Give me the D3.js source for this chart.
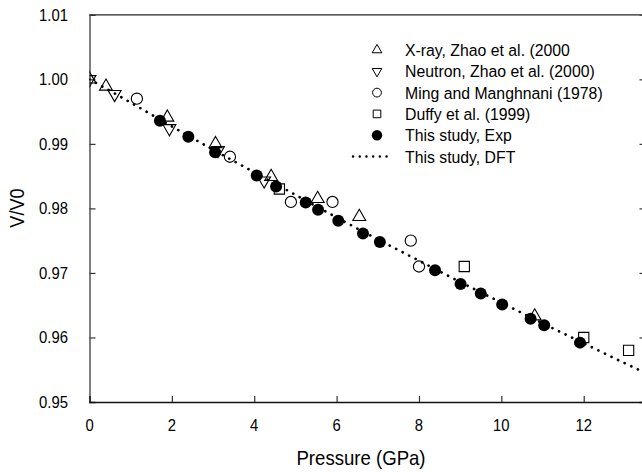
<!DOCTYPE html>
<html>
<head>
<meta charset="utf-8">
<title>V/V0 vs Pressure</title>
<script src="https://d3js.org/d3.v7.min.js"></script>
<style>
body { margin: 0; background: #fff; }
text { font-family: "Liberation Sans", Arial, sans-serif; fill: #000; }
</style>
</head>
<body>
<div id="chart"></div>
<script>
// X-ray, Zhao et al. (2000)
var xrayP = [0, 0.40, 1.89, 3.06, 4.41, 5.54, 6.55, 10.81];
var xrayV = [1.000, 0.9989, 0.9941, 0.9900, 0.9849, 0.9815, 0.9787, 0.9633];
// Neutron, Zhao et al. (2000)
var neutP = [0, 0.61, 1.94, 3.12, 4.24];
var neutV = [1.000, 0.9977, 0.9924, 0.9890, 0.9843];
// Ming and Manghnani (1978)
var mingP = [1.15, 3.41, 4.89, 5.90, 7.80, 8.00];
var mingV = [0.997, 0.988, 0.981, 0.981, 0.975, 0.971];
// Duffy et al. (1999)
var duffP = [4.61, 9.10, 12.00, 13.09];
var duffV = [0.983, 0.971, 0.960, 0.958];
// This study, Exp
var expP = [1.71, 2.40, 3.05, 4.06, 4.53, 5.25, 5.55, 6.04, 6.64, 7.05, 8.39, 9.01, 9.50, 10.02, 10.71, 11.04, 11.91];
var expV = [0.9936, 0.9911, 0.9887, 0.9851, 0.9834, 0.9809, 0.9798, 0.9781, 0.9761, 0.9748, 0.9704, 0.9683, 0.9668, 0.9651, 0.9629, 0.9619, 0.9592];
// This study, DFT
var dftP = [0, 1, 2, 3, 4, 5, 6, 7, 8, 9, 10, 11, 12, 13, 13.6];
var dftV = [1.000, 0.9964, 0.9927, 0.9891, 0.9856, 0.9821, 0.9786, 0.9752, 0.9719, 0.9686, 0.9654, 0.9622, 0.9591, 0.9560, 0.9542];

var xTicks = [0, 2, 4, 6, 8, 10, 12];
var yTicks = [0.95, 0.96, 0.97, 0.98, 0.99, 1.00, 1.01];

var legendNames = ["X-ray, Zhao et al. (2000", "Neutron, Zhao et al. (2000)", "Ming and Manghnani (1978)",
                   "Duffy et al. (1999)", "This study, Exp", "This study, DFT"];

var width = 642, height = 472;
var plotL = 89.5, plotR = 645.5, plotT = 14.8, plotB = 402;

var svg = d3.select("#chart").append("svg")
    .attr("width", width).attr("height", height);

var x = d3.scaleLinear().domain([0, 13.5]).range([plotL, plotR]);
var y = d3.scaleLinear().domain([0.95, 1.01]).range([plotB, plotT]);

svg.append("clipPath").attr("id", "clip")
  .append("rect").attr("x", plotL).attr("y", plotT).attr("width", plotR - plotL).attr("height", plotB - plotT);

// frame
svg.append("line").attr("x1", plotL).attr("x2", plotR).attr("y1", plotT).attr("y2", plotT)
  .attr("stroke", "#222").attr("stroke-width", 1.2);
svg.append("line").attr("x1", plotR).attr("x2", plotR).attr("y1", plotT).attr("y2", plotB)
  .attr("stroke", "#222").attr("stroke-width", 1.2);

// axes (inward ticks)
var yAxis = svg.append("g").attr("transform", "translate(" + plotL + ",0)")
  .call(d3.axisRight(y).tickValues(yTicks).tickSize(6).tickFormat(""));
var yAxisR = svg.append("g").attr("transform", "translate(" + plotR + ",0)")
  .call(d3.axisLeft(y).tickValues(yTicks.slice(0, 6)).tickSize(6).tickFormat(""));
var xAxis = svg.append("g").attr("transform", "translate(0," + plotB + ")")
  .call(d3.axisTop(x).tickValues(xTicks).tickSize(6).tickFormat(""));
[yAxis, yAxisR, xAxis].forEach(function(g) {
  g.select(".domain").attr("stroke", "#555").attr("stroke-width", 1.5);
  g.selectAll(".tick line").attr("stroke", "#333").attr("stroke-width", 1.2);
});
xAxis.select(".domain").attr("stroke", "#111");

// tick labels (font looks a little condensed in the original)
svg.selectAll(".ylab").data(yTicks).enter().append("text")
  .attr("transform", function(d) { return "translate(68," + y(d) + ") scale(0.9,1)"; })
  .attr("dy", "0.36em").attr("text-anchor", "end").attr("font-size", 16.5)
  .text(function(d) { return d3.format(".2f")(d); });
svg.selectAll(".xlab").data(xTicks).enter().append("text")
  .attr("transform", function(d) { return "translate(" + x(d) + ",425) scale(0.9,1)"; })
  .attr("dy", "0.36em").attr("text-anchor", "middle").attr("font-size", 16.5)
  .text(function(d) { return d; });

svg.append("text").attr("transform", "translate(361,458) scale(0.93,1)").attr("dy", "0.36em")
  .attr("text-anchor", "middle").attr("font-size", 20).text("Pressure (GPa)");
svg.append("text").attr("transform", "translate(17,208) rotate(-90) scale(0.93,1)").attr("dy", "0.36em")
  .attr("text-anchor", "middle").attr("font-size", 19.5).text("V/V0");

var plot = svg.append("g").attr("clip-path", "url(#clip)");

// DFT dotted curve
var dft = dftP.map(function(p, i) { return [p, dftV[i]]; });
plot.append("path").datum(dft)
  .attr("d", d3.line().x(function(d) { return x(d[0]); }).y(function(d) { return y(d[1]); }).curve(d3.curveMonotoneX))
  .attr("fill", "none").attr("stroke", "#000").attr("stroke-width", 2.7)
  .attr("stroke-linecap", "round").attr("stroke-dasharray", "0.1,7.2");

function pts(P, V) { return P.map(function(p, i) { return [p, V[i]]; }); }

var triUp = d3.symbol().type(d3.symbolTriangle).size(72)();
var sq = d3.symbol().type(d3.symbolSquare).size(105)();

function openMarks(data, path, rot) {
  plot.append("g").selectAll("path").data(data).enter().append("path")
    .attr("d", path)
    .attr("transform", function(d) { return "translate(" + x(d[0]) + "," + y(d[1]) + ") rotate(" + rot + ")"; })
    .attr("fill", "none").attr("stroke", "#000").attr("stroke-width", 1.1);
}

openMarks(pts(duffP, duffV), sq, 0);
openMarks(pts(xrayP, xrayV), triUp, 0);
openMarks(pts(neutP, neutV), triUp, 180);
plot.append("g").selectAll("circle").data(pts(mingP, mingV)).enter().append("circle")
  .attr("cx", function(d) { return x(d[0]); }).attr("cy", function(d) { return y(d[1]); })
  .attr("r", 5.6).attr("fill", "none").attr("stroke", "#000").attr("stroke-width", 1.1);
plot.append("g").selectAll("circle").data(pts(expP, expV)).enter().append("circle")
  .attr("cx", function(d) { return x(d[0]); }).attr("cy", function(d) { return y(d[1]); })
  .attr("r", 6).attr("fill", "#000");

// legend
var lg = svg.append("g");
var lx = 377, ly0 = 50, ldy = 21.3;
var smallTri = d3.symbol().type(d3.symbolTriangle).size(40)();
var smallSq = d3.symbol().type(d3.symbolSquare).size(58)();
legendNames.forEach(function(name, i) {
  var yy = ly0 + i * ldy;
  if (i === 0) lg.append("path").attr("d", smallTri).attr("transform", "translate(" + lx + "," + yy + ")")
    .attr("fill", "none").attr("stroke", "#000").attr("stroke-width", 1);
  if (i === 1) lg.append("path").attr("d", smallTri).attr("transform", "translate(" + lx + "," + yy + ") rotate(180)")
    .attr("fill", "none").attr("stroke", "#000").attr("stroke-width", 1);
  if (i === 2) lg.append("circle").attr("cx", lx).attr("cy", yy).attr("r", 4.4)
    .attr("fill", "none").attr("stroke", "#000").attr("stroke-width", 1);
  if (i === 3) lg.append("path").attr("d", smallSq).attr("transform", "translate(" + lx + "," + yy + ")")
    .attr("fill", "none").attr("stroke", "#000").attr("stroke-width", 1);
  if (i === 4) lg.append("circle").attr("cx", lx).attr("cy", yy).attr("r", 5.2).attr("fill", "#000");
  if (i === 5) lg.append("line").attr("x1", 353).attr("x2", 392).attr("y1", yy).attr("y2", yy)
    .attr("stroke", "#000").attr("stroke-width", 2.4).attr("stroke-linecap", "round").attr("stroke-dasharray", "0.1,6.6");
  lg.append("text").attr("transform", "translate(405," + yy + ") scale(0.93,1)").attr("dy", "0.36em")
    .attr("font-size", 17).text(name);
});
</script>
</body>
</html>
